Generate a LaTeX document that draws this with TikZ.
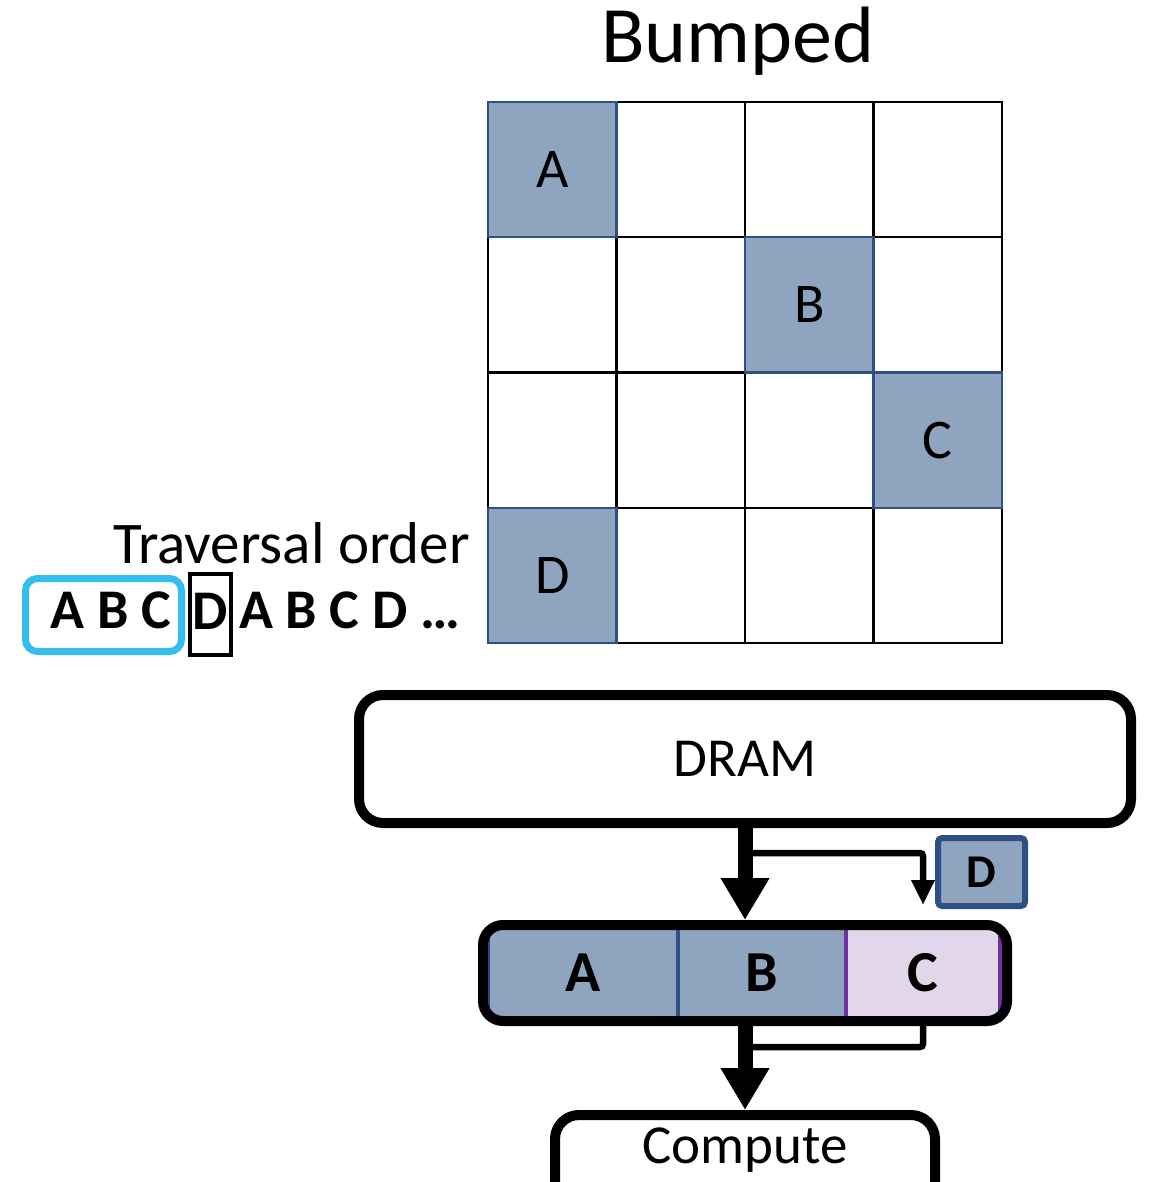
\documentclass[tikz,border=0pt]{standalone}
\usepackage{fontspec}
\setmainfont{Carlito}
\usetikzlibrary{positioning,arrows.meta,calc}
\definecolor{tile}{HTML}{8FA5BF}
\definecolor{tileedge}{HTML}{2E5184}
\definecolor{lilac}{HTML}{E2D6EB}
\definecolor{plum}{HTML}{7030A0}
\definecolor{sky}{HTML}{35BDF0}
\newcommand{\fsz}[1]{\fontsize{#1}{#1}\selectfont}
\tikzset{
  cell/.style={draw=black, line width=2.2pt, minimum width=128.5pt, minimum height=135.25pt,
               inner sep=0pt, outer sep=0pt, anchor=north west, font=\fsz{56}},
  hot/.style={cell, fill=tile, draw=tileedge},
  seq/.style={font=\fsz{56}\bfseries, inner sep=0pt, anchor=base},
  box/.style={draw=black, line width=10pt, rounded corners=24pt, fill=white, inner sep=0pt,
              font=\fsz{55}},
  slot/.style={line width=4pt, minimum height=100pt, inner sep=0pt, outer sep=0pt,
               font=\fsz{58}\bfseries},
  bigflow/.style={line width=15pt, -{Triangle[width=46pt,length=42pt]}},
  thin/.style={line width=6.5pt, rounded corners=3pt},
}

\begin{document}
\begin{tikzpicture}[x=1pt, y=-1pt]
\useasboundingbox (0,0) rectangle (1148,1182);

% --- matrix tiles ---------------------------------------------------------------------
\node[font=\fsz{80}, anchor=base, inner sep=0pt] (title) at (738,63) {Bumped};
\foreach \r in {0,...,3}
  \foreach \c in {0,...,3}
    \node[cell] (m\r\c) at (488+\c*128.5, 102+\r*135.25) {};
\foreach \r/\c/\t in {0/0/A, 1/2/B, 2/3/C, 3/0/D}
  \node[hot] (h\t) at (488+\c*128.5, 102+\r*135.25) {\t};

% --- traversal order ------------------------------------------------------------------
\node[font=\fsz{59}, anchor=base east, inner sep=0pt] (trav) at (470,563) {Traversal order};
\node[draw=sky, line width=7pt, rounded corners=12pt, minimum width=156, minimum height=73]
  (win) at (103.5,615) {};
\node[seq] (abc) at (111,628) {A B C};
\node[draw=black, line width=4pt, minimum width=41, minimum height=81, inner sep=0pt,
  text depth=7pt, font=\fsz{56}\bfseries] (dseq) at (210.5,614.5) {D};
\node[seq, anchor=base west] (rest) at (239,628) {A B C D …};

% --- memory hierarchy -----------------------------------------------------------------
\node[box, minimum width=772, minimum height=128] (dram) at (745,759) {DRAM};
\begin{scope}
  \clip[rounded corners=20pt] (483,925) rectangle (1007,1021);
  \node[slot, fill=tile, draw=tileedge, minimum width=190] (sa) at (583,973) {A};
  \node[slot, fill=tile, draw=tileedge, minimum width=168] (sb) at (762,973) {B};
  \node[slot, fill=lilac, draw=plum, minimum width=154] (sc) at (923,973) {C};
\end{scope}
\node[box, fill=none, rounded corners=20pt, minimum width=524, minimum height=96] (buf) at (745,973) {};
\node[draw=tileedge, fill=tile, line width=6pt, rounded corners=4pt, minimum width=87,
  minimum height=68, inner sep=0pt, font=\fsz{47}\bfseries] (dnext) at (981.5,872) {D};
\node[box, anchor=north, minimum width=380, inner ysep=13pt, text depth=40pt] (comp)
  at (745,1110) {Compute};

% --- flows ----------------------------------------------------------------------------
\draw[bigflow] (dram.south) -- (buf.north);
\coordinate (tap) at ($(dram.south)+(0,25)$);
\draw[thin, -{Triangle[width=22pt,length=25pt]}] (tap) -| ($(sc.north)+(0,-18)$);
\draw[bigflow] (buf.south) -- (comp.north);
\coordinate (back) at ($(buf.south)+(0,21)$);
\draw[thin] (sc.south) |- (back);

\end{tikzpicture}
\end{document}
